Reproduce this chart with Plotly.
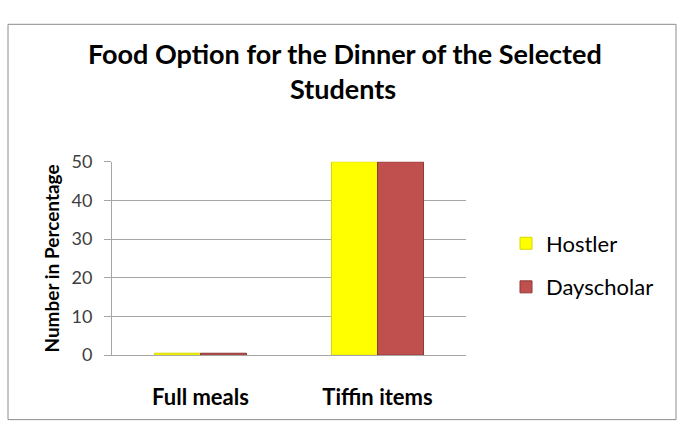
import plotly.graph_objects as go

categories = ["Full meals", "Tiffin items"]
hostler = [0.5, 50]
dayscholar = [0.5, 50]
series_names = ["Hostler", "Dayscholar"]
y_ticks = [0, 10, 20, 30, 40, 50]
title_lines = ["Food Option for the Dinner of the Selected", "Students"]
y_title = "Number in Percentage"

W, H = 677, 423
def px(x):
    return x / W
def py(y):
    return 1 - y / H

FONT = "Lato"

fig = go.Figure()
fig.add_trace(go.Bar(x=categories, y=hostler, name=series_names[0],
                     marker=dict(color="#ffff00", line=dict(color="#d6d600", width=1)),
                     legendgroup="a"))
fig.add_trace(go.Bar(x=categories, y=dayscholar, name=series_names[1],
                     marker=dict(color="#c0504d", line=dict(color="#8c3836", width=1)),
                     legendgroup="b"))

fig.update_layout(
    width=W, height=H,
    margin=dict(l=0, r=0, t=0, b=0),
    paper_bgcolor="white", plot_bgcolor="white",
    barmode="group", bargap=0.48, bargroupgap=0.0,
    font=dict(family=FONT, color="#000000"),
    showlegend=True,
    legend=dict(x=px(506), y=py(222), xanchor="left", yanchor="top",
                font=dict(size=22, family=FONT, color="#000000"),
                tracegroupgap=12, traceorder="grouped",
                bgcolor="rgba(0,0,0,0)"),
    xaxis=dict(domain=[px(112), px(466)], anchor="y",
               showline=True, linecolor="#a6a6a6", linewidth=1,
               ticks="", tickfont=dict(size=22, family=FONT, color="#000000", weight="bold"),
               ticklabelstandoff=22),
    yaxis=dict(domain=[py(362), py(158)], anchor="x", range=[0, 50],
               tickvals=y_ticks, showgrid=True, gridcolor="#a6a6a6", gridwidth=1,
               showline=True, linecolor="#a6a6a6", linewidth=1,
               ticks="outside", ticklen=7, tickcolor="#a6a6a6",
               tickfont=dict(size=18, family=FONT, color="#404040"),
               ticklabelstandoff=8,
               zeroline=False,
               title=dict(text=y_title, font=dict(size=19, family=FONT, color="#000000", weight="bold"),
                          standoff=6)),
)

fig.add_annotation(text=title_lines[0], x=px(345), y=py(44), xref="paper", yref="paper",
                   showarrow=False, font=dict(size=27, family=FONT, color="#000000", weight="bold"),
                   xanchor="center", yanchor="middle")
fig.add_annotation(text=title_lines[1], x=px(343), y=py(81), xref="paper", yref="paper",
                   showarrow=False, font=dict(size=27, family=FONT, color="#000000", weight="bold"),
                   xanchor="center", yanchor="middle")

fig.add_shape(type="rect", xref="paper", yref="paper",
              x0=px(8), x1=px(676), y0=py(430), y1=py(13),
              line=dict(color="#8c8c8c", width=1), fillcolor="rgba(0,0,0,0)", layer="below")

fig.write_html("out.html")
